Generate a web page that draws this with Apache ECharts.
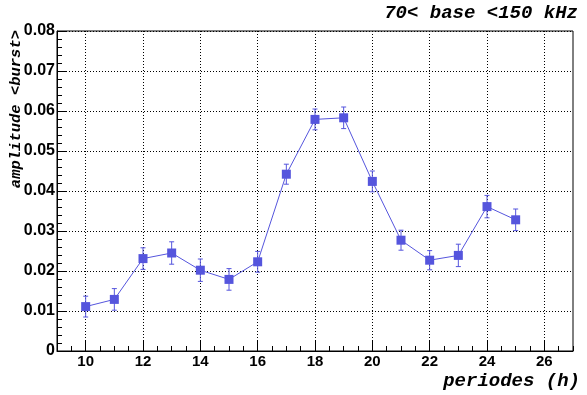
<!DOCTYPE html>
<html>
<head>
<meta charset="utf-8">
<script src="https://cdn.jsdelivr.net/npm/echarts@6/dist/echarts.min.js"></script>
<style>
  html, body { margin: 0; padding: 0; background: #fff; }
  #chart { width: 587px; height: 395px; }
</style>
</head>
<body>
<div id="chart"></div>
<script>
const periods = [10, 11, 12, 13, 14, 15, 16, 17, 18, 19, 20, 21, 22, 23, 24, 25]
const amplitude = [0.0111, 0.0129, 0.0231, 0.0245, 0.0202, 0.0179, 0.0223, 0.0442,
  0.0579, 0.0583, 0.0424, 0.0277, 0.0227, 0.0239, 0.0361, 0.0328]
const errors = [0.0026, 0.0027, 0.0027, 0.0028, 0.0028, 0.0027, 0.0026, 0.0025,
  0.0026, 0.0027, 0.0026, 0.0025, 0.0024, 0.0028, 0.0028, 0.0027]
const xTicks = [10, 12, 14, 16, 18, 20, 22, 24, 26]

const blue = '#5555dd'
const mono = '"Liberation Mono", "DejaVu Sans Mono", monospace'
const sans = '"Liberation Sans", Arial, sans-serif'

const chart = echarts.init(document.getElementById('chart'))

const points = periods.map((p, i) => [p, amplitude[i]])
const bars = periods.map((p, i) => [p, amplitude[i] - errors[i], amplitude[i] + errors[i]])

const dotted = { show: true, lineStyle: { color: '#000', type: [1, 2], width: 1 } }

const option = {
  animation: false,
  grid: {
    left: 57, right: 14, top: 31, bottom: 44,
    show: true, borderColor: '#000', borderWidth: 1, backgroundColor: 'transparent'
  },
  xAxis: [
    {
      type: 'value', min: 9, max: 27, interval: 0.5,
      axisLine: { show: true, lineStyle: { color: '#000' } },
      axisTick: { inside: true, length: 5, lineStyle: { color: '#000' } },
      axisLabel: { show: false },
      splitLine: { show: false }
    },
    {
      type: 'value', min: 9, max: 27, position: 'bottom', offset: 0,
      axisLine: { show: false },
      axisTick: { inside: true, length: 10, customValues: xTicks, lineStyle: { color: '#000' } },
      axisLabel: {
        customValues: xTicks, color: '#000', fontFamily: sans, fontWeight: 'bold',
        fontSize: 15, margin: 3
      },
      splitLine: dotted
    }
  ],
  yAxis: {
    type: 'value', min: 0, max: 0.08, interval: 0.01,
    axisLine: { show: true, lineStyle: { color: '#000' } },
    axisTick: { inside: true, length: 10, lineStyle: { color: '#000' } },
    minorTick: { show: true, splitNumber: 5, length: 5, lineStyle: { color: '#000' } },
    axisLabel: {
      color: '#000', fontFamily: sans, fontWeight: 'bold', fontSize: 16, margin: 2,
      formatter: v => (v === 0 ? '0' : v.toFixed(2))
    },
    splitLine: dotted
  },
  graphic: [
    {
      type: 'text', right: 9, top: 4,
      style: { text: '70< base <150 kHz', fontFamily: mono, fontStyle: 'italic',
        fontWeight: 'bold', fontSize: 19, fill: '#000' }
    },
    {
      type: 'text', right: 7, top: 372,
      style: { text: 'periodes (h)', fontFamily: mono, fontStyle: 'italic',
        fontWeight: 'bold', fontSize: 19, fill: '#000' }
    },
    {
      type: 'text', x: 16, y: 30, rotation: Math.PI / 2,
      style: { text: 'amplitude <burst>', fontFamily: mono, fontStyle: 'italic',
        fontWeight: 'bold', fontSize: 15.5, fill: '#000', align: 'right', verticalAlign: 'middle' }
    }
  ],
  series: [
    {
      type: 'custom',
      xAxisIndex: 0,
      data: bars,
      z: 3,
      renderItem: (params, api) => {
        const top = api.coord([api.value(0), api.value(2)])
        const bot = api.coord([api.value(0), api.value(1)])
        const cap = 2.5
        const style = { stroke: blue, lineWidth: 1 }
        return {
          type: 'group',
          children: [
            { type: 'line', shape: { x1: top[0], y1: top[1], x2: bot[0], y2: bot[1] }, style },
            { type: 'line', shape: { x1: top[0] - cap, y1: top[1], x2: top[0] + cap, y2: top[1] }, style },
            { type: 'line', shape: { x1: bot[0] - cap, y1: bot[1], x2: bot[0] + cap, y2: bot[1] }, style }
          ]
        }
      }
    },
    {
      type: 'line',
      xAxisIndex: 0,
      data: points,
      symbol: 'rect',
      symbolSize: 9,
      z: 4,
      lineStyle: { color: blue, width: 1 },
      itemStyle: { color: blue }
    }
  ]
}

chart.setOption(option)
window.addEventListener('resize', () => chart.resize())
</script>
</body>
</html>
